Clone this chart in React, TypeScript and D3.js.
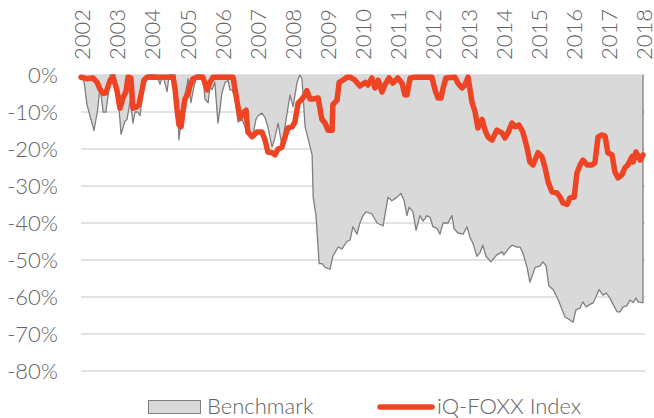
import React from "react";
import * as d3 from "d3";

// Benchmark drawdown (%), decimal-year dates
const benchT = [
  2002.0, 2002.09, 2002.17, 2002.37, 2002.48, 2002.54, 2002.63, 2002.71, 2002.77, 2002.83, 2002.97,
  2003.05, 2003.14, 2003.25, 2003.31, 2003.4, 2003.48, 2003.54, 2003.62, 2003.68, 2003.77, 2003.91,
  2004.11, 2004.19, 2004.25, 2004.33, 2004.45, 2004.51, 2004.68, 2004.73, 2004.79, 2004.85, 2004.9, 2004.99,
  2005.05, 2005.13, 2005.22, 2005.3, 2005.47, 2005.53, 2005.62, 2005.67, 2005.73, 2005.81, 2005.9, 2005.96,
  2006.01, 2006.1, 2006.19, 2006.24, 2006.3, 2006.38, 2006.47, 2006.58, 2006.67, 2006.75, 2006.9, 2006.98,
  2007.04, 2007.15, 2007.24, 2007.32, 2007.44, 2007.52, 2007.61, 2007.72, 2007.84, 2007.95,
  2008.04, 2008.15, 2008.23, 2008.29, 2008.38, 2008.46, 2008.58, 2008.61, 2008.69, 2008.78, 2008.86, 2008.95,
  2009.09, 2009.17, 2009.32, 2009.43, 2009.57, 2009.66, 2009.74, 2009.86, 2009.94,
  2010.03, 2010.11, 2010.28, 2010.43, 2010.6, 2010.74, 2010.85,
  2011.0, 2011.11, 2011.2, 2011.28, 2011.34, 2011.45, 2011.54, 2011.65, 2011.74, 2011.85, 2011.94,
  2012.02, 2012.14, 2012.22, 2012.31, 2012.45, 2012.56, 2012.62, 2012.73, 2012.88, 2012.99,
  2013.07, 2013.16, 2013.27, 2013.36, 2013.44, 2013.53, 2013.67, 2013.84, 2013.99,
  2014.04, 2014.16, 2014.27, 2014.41, 2014.5, 2014.58, 2014.7, 2014.78, 2014.93,
  2015.07, 2015.15, 2015.24, 2015.32, 2015.44, 2015.55, 2015.64, 2015.78, 2015.89,
  2016.01, 2016.09, 2016.21, 2016.29, 2016.38, 2016.49, 2016.58, 2016.66, 2016.75, 2016.86, 2016.95,
  2017.06, 2017.15, 2017.26, 2017.35, 2017.43, 2017.54, 2017.63, 2017.72, 2017.8, 2017.86, 2018.0,
];
const benchV = [
  0, -2, -8, -15, -9, -3, -10, -10, -5.5, 0, 0,
  -5, -16, -12.5, -12, -7, -13, -10, -10, -11, -4, 0,
  0, -1, -2.5, 0, -4.5, 0, 0, -6, -17.5, -12, -7.5, -4,
  -1, -7.5, -3, 0, 0, -6.5, -7.5, -3, -4, -2, -13, -9,
  -5, -2, -1.5, -4, -4, -6, -12.7, -12, -14, -16, -16, -12,
  -11, -10.3, -11.5, -14, -19.5, -17, -13, -19, -12, -5.4,
  -8.6, -2, 0, -1, -14, -17, -21.6, -33, -38, -51, -51, -52,
  -52.5, -49, -46.5, -47, -45, -44.6, -41, -43, -40,
  -38, -37, -37.5, -40, -40.8, -33, -34,
  -33, -32, -34, -38, -35.7, -37, -42, -38, -39.5, -38, -38.5,
  -41, -41.5, -43, -40, -40, -38, -41.5, -42.7, -43, -41,
  -43.8, -45.5, -49, -48, -46, -49, -50.5, -48.6, -47.8,
  -48.6, -47, -46, -46.5, -46.5, -48.1, -52, -56, -52,
  -51.6, -50.5, -51.6, -57, -58, -60, -62, -65.4, -66,
  -66.8, -63.5, -63, -61.3, -62.7, -62, -61.6, -60, -58, -59.5, -58.9,
  -60.3, -62, -64, -64, -62.7, -62.4, -60.8, -61.5, -60.3, -61.3, -61.6,
];

// iQ-FOXX Index drawdown (%)
const foxxT = [
  2002.0, 2002.17, 2002.34, 2002.46, 2002.54, 2002.63, 2002.71, 2002.83, 2002.91,
  2003.02, 2003.11, 2003.2, 2003.28, 2003.34, 2003.42, 2003.48, 2003.59, 2003.65, 2003.74, 2003.79, 2003.88,
  2004.62, 2004.68, 2004.73, 2004.79, 2004.85, 2004.9, 2004.96, 2005.05, 2005.1, 2005.19, 2005.3,
  2005.47, 2005.59, 2005.67, 2005.76, 2006.33, 2006.44, 2006.53, 2006.61, 2006.7, 2006.75, 2006.87,
  2007.01, 2007.15, 2007.24, 2007.32, 2007.44, 2007.52, 2007.61, 2007.72, 2007.81, 2007.89,
  2008.01, 2008.09, 2008.18, 2008.29, 2008.38, 2008.43, 2008.52, 2008.61, 2008.75, 2008.86, 2008.95,
  2009.03, 2009.15, 2009.17, 2009.29, 2009.35, 2009.46, 2009.57, 2009.66, 2009.8, 2009.94,
  2010.09, 2010.17, 2010.28, 2010.37, 2010.46, 2010.57, 2010.65, 2010.77, 2010.88,
  2011.02, 2011.14, 2011.22, 2011.28, 2011.37, 2011.51, 2011.99,
  2012.08, 2012.16, 2012.25, 2012.31, 2012.39, 2012.65, 2012.73, 2012.85, 2012.93,
  2013.02, 2013.13, 2013.22, 2013.3, 2013.42, 2013.5, 2013.59, 2013.7, 2013.84, 2013.99,
  2014.07, 2014.16, 2014.27, 2014.36, 2014.47, 2014.58, 2014.7, 2014.78, 2014.87,
  2015.01, 2015.12, 2015.21, 2015.3, 2015.41, 2015.55, 2015.64, 2015.72, 2015.84, 2015.92,
  2016.04, 2016.12, 2016.21, 2016.29, 2016.41, 2016.55, 2016.63, 2016.72, 2016.83, 2016.92,
  2017.0, 2017.12, 2017.2, 2017.29, 2017.4, 2017.49, 2017.57, 2017.69, 2017.72, 2017.8, 2017.92, 2018.0,
];
const foxxV = [
  -0.6, -1.0, -0.8, -2, -3.8, -5, -4.8, -1.4, -0.6,
  -4, -9, -6, -4.5, -0.6, -0.8, -9, -8.6, -8, -4, -1.4, -0.6,
  -0.6, -4, -9, -13.5, -14, -10, -6.5, -5, -3, -1, -0.6,
  -0.6, -4, -2, -0.6, -0.6, -7, -11.7, -10.3, -9.5, -15.4, -16.7,
  -15.4, -15.4, -17.6, -20.8, -21, -21.6, -20, -19.5, -16.7, -14.3,
  -14, -12.7, -7.6, -6.5, -5.4, -4.2, -6.5, -6.5, -6.2, -12, -13,
  -14.9, -14.9, -8, -6.8, -2, -1.4, -0.6, -0.6, -1.4, -3,
  -2, -2.7, -0.8, -3.5, -1.4, -4.6, -2.7, -0.8, -2.2,
  -0.8, -2.2, -5.4, -5.4, -0.8, -0.6, -0.6,
  -4, -6.2, -6.2, -3.5, -0.8, -0.6, -2.2, -3.5, -2.7,
  -0.6, -7.3, -10, -14.3, -12, -14.9, -16.8, -17.6, -14.9, -15.7,
  -17, -15.5, -13, -14, -13.5, -15.4, -19.7, -23.5, -24.3,
  -21, -22, -25, -28.9, -31.6, -31.9, -33, -34.6, -35, -33.2,
  -33, -26.5, -24.3, -23, -24.3, -24.3, -23.8, -16.8, -16.2, -16.5,
  -21, -21.6, -26.2, -27.8, -27, -25, -24.3, -22, -23.5, -20.8, -23, -21.6,
];

const yearTicks = d3.range(2002, 2019);
const yTicks = [0, -10, -20, -30, -40, -50, -60, -70, -80];
const seriesNames = ["Benchmark", "iQ-FOXX Index"];

const W = 654;
const H = 418;
const FONT = "Lato, 'Open Sans', sans-serif";
const TEXT = "#636363";

export default function App() {
  const x = d3.scaleLinear().domain([2002, 2018]).range([81, 643]);
  const y = d3.scaleLinear().domain([0, -80]).range([75, 371]);

  const bench = benchT.map((t, i) => [t, benchV[i]] as [number, number]);
  const foxx = foxxT.map((t, i) => [t, foxxV[i]] as [number, number]);

  const area = d3
    .area<[number, number]>()
    .x((d) => x(d[0]))
    .y0(y(0))
    .y1((d) => y(d[1]));
  const line = d3
    .line<[number, number]>()
    .x((d) => x(d[0]))
    .y((d) => y(d[1]));

  const last = bench[bench.length - 1];

  return (
    <svg
      width={W}
      height={H}
      style={{ position: "absolute", left: 0, top: 0, background: "#fff" }}
      fontFamily={FONT}
    >
      {yTicks.map((v) => (
        <line key={v} x1={81} x2={645} y1={y(v)} y2={y(v)} stroke="#d9d9d9" strokeWidth={1.5} />
      ))}
      <path d={area(bench) || ""} fill="#d9d9d9" stroke="none" />
      <path d={line(bench) || ""} fill="none" stroke="#7f7f7f" strokeWidth={1.3} strokeLinejoin="round" />
      <line x1={x(last[0])} x2={x(last[0])} y1={y(0)} y2={y(last[1])} stroke="#7f7f7f" strokeWidth={1.3} />
      <path
        d={line(foxx) || ""}
        fill="none"
        stroke="#EE4424"
        strokeWidth={5.5}
        strokeLinejoin="round"
        strokeLinecap="round"
      />
      {yTicks.map((v) => (
        <text key={v} x={58} y={y(v)} dy="0.35em" textAnchor="end" fontSize={22} fontWeight={300} fill={TEXT}>
          {v}%
        </text>
      ))}
      {yearTicks.map((yr) => (
        <text
          key={yr}
          transform={`translate(${x(yr) + 1.5},60) rotate(-90)`}
          dy="0.35em"
          textAnchor="start"
          fontSize={22}
          fontWeight={300}
          fill={TEXT}
        >
          {yr}
        </text>
      ))}
      <g>
        <rect x={148.5} y={400.5} width={52} height={13} fill="#d9d9d9" stroke="#7f7f7f" strokeWidth={1} />
        <text x={207} y={414} fontSize={22} fontWeight={300} fill={TEXT}>
          {seriesNames[0]}
        </text>
        <line x1={380} x2={432} y1={407} y2={407} stroke="#EE4424" strokeWidth={5.5} strokeLinecap="round" />
        <text x={437} y={414} fontSize={22} fontWeight={300} fill={TEXT}>
          {seriesNames[1]}
        </text>
      </g>
    </svg>
  );
}
